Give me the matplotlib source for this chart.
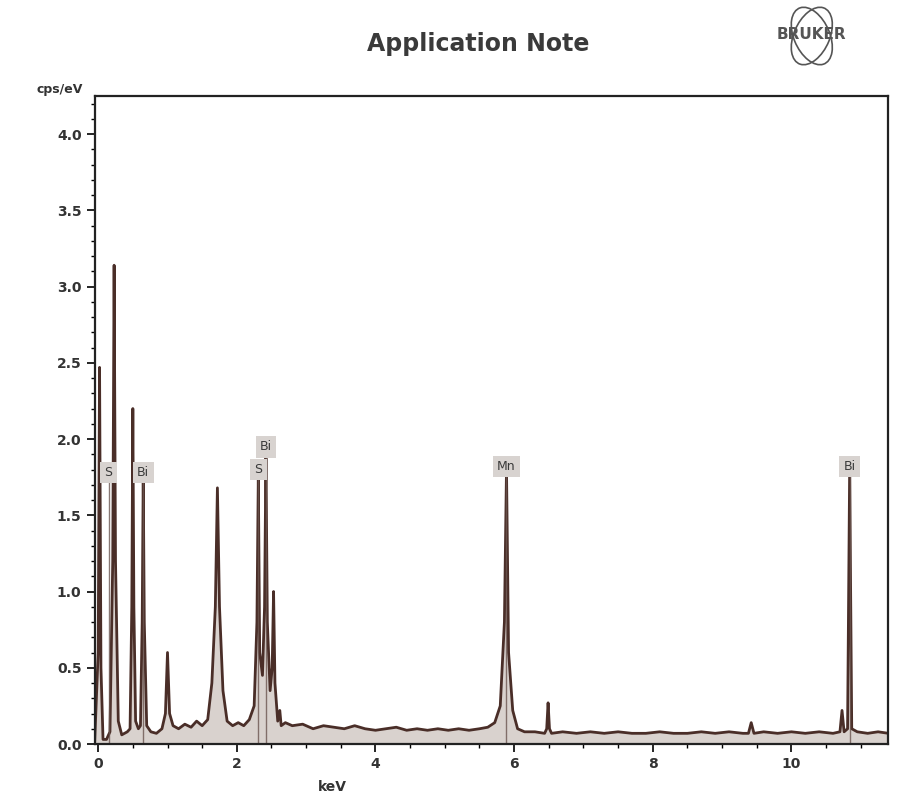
import matplotlib
matplotlib.use("Agg")
import matplotlib.pyplot as plt
from matplotlib.patches import Ellipse
from matplotlib.ticker import MultipleLocator, FormatStrFormatter

# EDS spectrum (keV, cps/eV)
energy_kev = [
    -0.05, 0.00, 0.02, 0.04, 0.07,
    0.12, 0.17, 0.21, 0.23, 0.25, 0.29, 0.34,
    0.42, 0.46, 0.485, 0.50, 0.515, 0.54, 0.58,
    0.61, 0.635, 0.65, 0.665, 0.70, 0.76,
    0.84, 0.92, 0.97, 1.00, 1.03, 1.08, 1.16,
    1.25, 1.34, 1.42, 1.50, 1.58, 1.64, 1.69, 1.72, 1.75, 1.80, 1.86, 1.94,
    2.02, 2.10, 2.18, 2.25, 2.29, 2.31, 2.33, 2.37, 2.40, 2.42, 2.44, 2.48,
    2.51, 2.53, 2.55, 2.59, 2.62, 2.64, 2.70,
    2.80, 2.95, 3.10, 3.25, 3.40, 3.55, 3.70, 3.85, 4.00, 4.15, 4.30, 4.45,
    4.60, 4.75, 4.90, 5.05, 5.20, 5.35, 5.50,
    5.62, 5.72, 5.80, 5.86, 5.89, 5.92, 5.98, 6.05, 6.15,
    6.30, 6.44, 6.47, 6.49, 6.51, 6.54,
    6.70, 6.90, 7.10, 7.30, 7.50, 7.70, 7.90, 8.10, 8.30, 8.50, 8.70, 8.90,
    9.10, 9.30, 9.38, 9.42, 9.46, 9.60, 9.80, 10.00, 10.20, 10.40, 10.60,
    10.70, 10.73, 10.76, 10.81, 10.84, 10.87, 10.95, 11.10, 11.25, 11.40,
]
cps = [
    0.02, 0.60, 2.47, 0.50, 0.03,
    0.03, 0.08, 1.20, 3.14, 1.20, 0.15, 0.06,
    0.08, 0.10, 0.90, 2.20, 0.90, 0.15, 0.10,
    0.12, 0.80, 1.76, 0.80, 0.12, 0.08,
    0.07, 0.10, 0.20, 0.60, 0.20, 0.12, 0.10,
    0.13, 0.11, 0.15, 0.12, 0.16, 0.40, 0.90, 1.68, 0.90, 0.35, 0.15, 0.12,
    0.14, 0.12, 0.16, 0.25, 0.80, 1.76, 0.60, 0.45, 0.90, 1.90, 0.80, 0.35,
    0.50, 1.00, 0.40, 0.15, 0.22, 0.12, 0.14,
    0.12, 0.13, 0.10, 0.12, 0.11, 0.10, 0.12, 0.10, 0.09, 0.10, 0.11, 0.09,
    0.10, 0.09, 0.10, 0.09, 0.10, 0.09, 0.10,
    0.11, 0.14, 0.25, 0.80, 1.80, 0.60, 0.22, 0.10, 0.08,
    0.08, 0.07, 0.10, 0.27, 0.10, 0.07,
    0.08, 0.07, 0.08, 0.07, 0.08, 0.07, 0.07, 0.08, 0.07, 0.07, 0.08, 0.07,
    0.08, 0.07, 0.07, 0.14, 0.07, 0.08, 0.07, 0.08, 0.07, 0.08, 0.07,
    0.08, 0.22, 0.08, 0.10, 1.80, 0.10, 0.08, 0.07, 0.08, 0.07,
]

# element markers
element_names = ["S", "Bi", "S", "Bi", "Mn", "Bi"]
element_kev = [0.15, 0.65, 2.31, 2.42, 5.89, 10.84]
element_cps = [1.78, 1.78, 1.80, 1.95, 1.82, 1.82]

fig = plt.figure(figsize=(9.02, 8), dpi=100)
ax = fig.add_axes([0.105, 0.07, 0.88, 0.81])

line_col = "#4a2e28"
ax.fill_between(energy_kev, 0, cps, color="#d9d2ce", lw=0)
ax.plot(energy_kev, cps, color=line_col, lw=2.0)

for name, xk, yk in zip(element_names, element_kev, element_cps):
    ax.vlines(xk, 0, yk, color="#6b5550", lw=1.0, alpha=0.8)
    ax.text(xk, yk, name, ha="center", va="center", fontsize=9, color="#3a3a3a",
            bbox=dict(boxstyle="square,pad=0.35", fc="#d8d3d0", ec="none"))

ax.set_xlim(-0.05, 11.4)
ax.set_ylim(0, 4.25)
ax.xaxis.set_major_locator(MultipleLocator(2))
ax.xaxis.set_minor_locator(MultipleLocator(0.5))
ax.yaxis.set_major_locator(MultipleLocator(0.5))
ax.yaxis.set_minor_locator(MultipleLocator(0.1))
ax.yaxis.set_major_formatter(FormatStrFormatter("%.1f"))
ax.tick_params(which="major", direction="out", length=6, width=1.2, labelsize=10)
ax.tick_params(which="minor", direction="out", length=3, width=1.0)
for lab in ax.get_xticklabels() + ax.get_yticklabels():
    lab.set_fontweight("bold")
    lab.set_color("#333333")
for s in ax.spines.values():
    s.set_linewidth(1.6)
    s.set_color("#222222")

ax.set_xlabel("keV", fontsize=10, fontweight="bold", color="#333333")
ax.xaxis.set_label_coords(0.30, -0.055)
ax.text(-0.015, 1.0, "cps/eV", transform=ax.transAxes, ha="right", va="bottom",
        fontsize=9, fontweight="bold", color="#333333")

fig.text(0.53, 0.945, "Application Note", ha="center", va="center",
         fontsize=17, fontweight="bold", color="#3a3a3a")
fig.text(0.9, 0.957, "BRUKER", ha="center", va="center", fontsize=11,
         fontweight="bold", color="#555555")
for ang in (70, -70):
    fig.patches.append(Ellipse((0.9, 0.955), 0.075, 0.04, angle=ang, fill=False,
                               ec="#555555", lw=1.2, transform=fig.transFigure))

fig.savefig("out.png", dpi=100, facecolor="white")
